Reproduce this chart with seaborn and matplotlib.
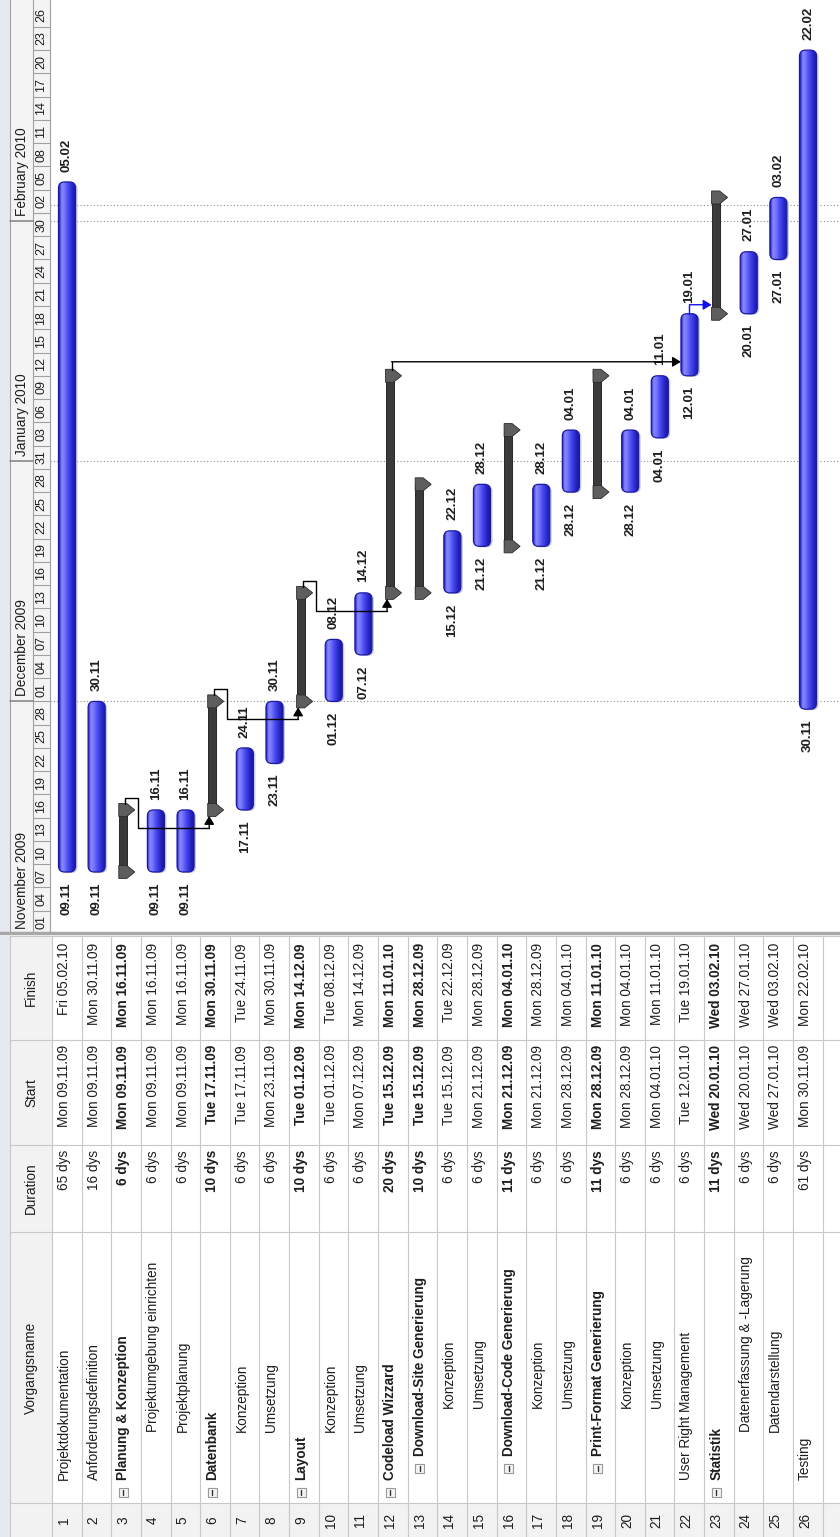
#!/usr/bin/env python3

import numpy as np
import pandas as pd
import seaborn as sns
import matplotlib.pyplot as plt
from matplotlib.patches import Rectangle, Polygon, FancyBboxPatch
from matplotlib.colors import LinearSegmentedColormap

# ---- data ----
task_names = [
    'Projektdokumentation', 'Anforderungsdefinition', 'Planung & Konzeption',
    'Projektumgebung einrichten', 'Projektplanung', 'Datenbank', 'Konzeption',
    'Umsetzung', 'Layout', 'Konzeption', 'Umsetzung', 'Codeload Wizzard',
    'Download-Site Generierung', 'Konzeption', 'Umsetzung',
    'Download-Code Generierung', 'Konzeption', 'Umsetzung',
    'Print-Format Generierung', 'Konzeption', 'Umsetzung',
    'User Right Management', 'Statistik', 'Datenerfassung & -Lagerung',
    'Datendarstellung', 'Testing',
]
outline_level = [0, 0, 0, 1, 1, 0, 1, 1, 0, 1, 1, 0, 1, 2, 2, 1, 2, 2, 1, 2, 2,
                 0, 0, 1, 1, 0]
summary_rows = [3, 6, 9, 12, 13, 16, 19, 23]
durations = ['65 dys', '16 dys', '6 dys', '6 dys', '6 dys', '10 dys', '6 dys',
             '6 dys', '10 dys', '6 dys', '6 dys', '20 dys', '10 dys', '6 dys',
             '6 dys', '11 dys', '6 dys', '6 dys', '11 dys', '6 dys', '6 dys',
             '6 dys', '11 dys', '6 dys', '6 dys', '61 dys']
starts = ['Mon 09.11.09', 'Mon 09.11.09', 'Mon 09.11.09', 'Mon 09.11.09',
          'Mon 09.11.09', 'Tue 17.11.09', 'Tue 17.11.09', 'Mon 23.11.09',
          'Tue 01.12.09', 'Tue 01.12.09', 'Mon 07.12.09', 'Tue 15.12.09',
          'Tue 15.12.09', 'Tue 15.12.09', 'Mon 21.12.09', 'Mon 21.12.09',
          'Mon 21.12.09', 'Mon 28.12.09', 'Mon 28.12.09', 'Mon 28.12.09',
          'Mon 04.01.10', 'Tue 12.01.10', 'Wed 20.01.10', 'Wed 20.01.10',
          'Wed 27.01.10', 'Mon 30.11.09']
finishes = ['Fri 05.02.10', 'Mon 30.11.09', 'Mon 16.11.09', 'Mon 16.11.09',
            'Mon 16.11.09', 'Mon 30.11.09', 'Tue 24.11.09', 'Mon 30.11.09',
            'Mon 14.12.09', 'Tue 08.12.09', 'Mon 14.12.09', 'Mon 11.01.10',
            'Mon 28.12.09', 'Tue 22.12.09', 'Mon 28.12.09', 'Mon 04.01.10',
            'Mon 28.12.09', 'Mon 04.01.10', 'Mon 11.01.10', 'Mon 04.01.10',
            'Mon 11.01.10', 'Tue 19.01.10', 'Wed 03.02.10', 'Wed 27.01.10',
            'Wed 03.02.10', 'Mon 22.02.10']
# predecessor, successor, routing of the link line
links = [(3, 6, 'zigzag'), (6, 9, 'zigzag'), (9, 12, 'zigzag'),
         (12, 22, 'direct'), (22, 23, 'direct')]
link_colors = ['black', 'black', 'black', 'black', '#1010e8']
months = ['November 2009', 'December 2009', 'January 2010', 'February 2010']
month_starts = ['01.11.09', '01.12.09', '01.01.10', '01.02.10']
status_date = '03.02.10'
column_titles = ['Vorgangsname', 'Duration', 'Start', 'Finish']

# ---- layout (pixels of the 840x1537 picture) ----
W, H = 840, 1537
PX_DAY = 7.753      # pixels per day on the time axis
DAY0_Y = 934        # pixel row of 01.11.2009 00:00
ROW0_X = 67         # pixel column of task row 1
ROW_W = 29.64       # pixels per task row
GANTT_BOTTOM = 933
TXT = '#1e1e1e'
GRID = '#c8c8c8'

origin = pd.Timestamp('2009-11-01')


def to_day(text):
    return (pd.to_datetime(text[-8:], format='%d.%m.%y') - origin).days


def dx(p):
    return p / ROW_W


def dy(p):
    return p / PX_DAY


tasks = pd.DataFrame({
    'row': np.arange(len(task_names)),
    'name': task_names,
    'level': outline_level,
    'duration': durations,
    'start_txt': starts,
    'finish_txt': finishes,
})
tasks['summary'] = (tasks['row'] + 1).isin(summary_rows)
tasks['start'] = [to_day(s) for s in starts]
tasks['end'] = [to_day(s) + 1 for s in finishes]
tasks['length'] = tasks['end'] - tasks['start']

sns.set_style('white')
plt.rcParams['font.family'] = ['Liberation Sans', 'DejaVu Sans']

fig = plt.figure(figsize=(W / 100, H / 100), dpi=100)


def px_axes(x0, y0, x1, y1):
    return fig.add_axes([x0 / W, 1 - y1 / H, (x1 - x0) / W, (y1 - y0) / H])


y_lo = (DAY0_Y - GANTT_BOTTOM) / PX_DAY
y_hi = DAY0_Y / PX_DAY

# ---- gantt area ----
gantt = px_axes(50, 0, W, GANTT_BOTTOM)
leaf = tasks[~tasks['summary']]
sns.barplot(data=leaf, x='row', y='length', order=list(tasks['row']),
            bottom=leaf['start'].to_numpy(), width=dx(17), color='#4d4df2',
            errorbar=None, ax=gantt, zorder=3)

bar_cmap = LinearSegmentedColormap.from_list(
    'bar', ['#2020c0', '#8a8aff', '#7474fb', '#5050f2', '#3838e0', '#2424bc',
            '#1a1aa0'])
for rect in list(gantt.patches):
    x, y = rect.get_x(), rect.get_y()
    w, h = rect.get_width(), rect.get_height()
    rect.remove()
    # faint drop shadow on the right side
    gantt.add_patch(FancyBboxPatch(
        (x + dx(2), y - dy(1)), w, h,
        boxstyle=f'round,pad=0,rounding_size={dx(6)}',
        mutation_aspect=ROW_W / PX_DAY, fc='#c8c8d8', ec='none', zorder=2))
    pill = FancyBboxPatch((x, y), w, h,
                          boxstyle=f'round,pad=0,rounding_size={dx(6)}',
                          mutation_aspect=ROW_W / PX_DAY, fc='none',
                          ec='#1a1aa8', lw=0.9, zorder=4)
    gantt.add_patch(pill)
    im = gantt.imshow(np.linspace(0, 1, 64)[None, :],
                      extent=(x, x + w, y, y + h), origin='lower',
                      aspect='auto', cmap=bar_cmap, interpolation='bilinear',
                      zorder=3)
    im.set_clip_path(pill)

# summary bars with their end caps
summ = tasks[tasks['summary']]
gantt.bar(summ['row'] - dx(3.5), summ['length'], bottom=summ['start'],
          width=dx(8), color='#3a3a3a', edgecolor='#141414', lw=0.6,
          zorder=3)
for _, t in summ.iterrows():
    xl, xm, xt = t['row'] - dx(7.5), t['row'] + dx(0.5), t['row'] + dx(8.5)
    for yc in (t['start'], t['end']):
        hh = dy(6.5)
        gantt.add_patch(Polygon(
            [(xl, yc - hh), (xm, yc - hh), (xt, yc), (xm, yc + hh),
             (xl, yc + hh)], closed=True, fc='#5e5e5e', ec='#2a2a2a',
            lw=0.6, zorder=4))

# start / finish labels
for _, t in leaf.iterrows():
    gantt.annotate(t['start_txt'][4:9], (t['row'], t['start']),
                   xytext=(0, -7.5), textcoords='offset points', rotation=90,
                   ha='center', va='top', fontsize=9.5, fontweight='bold',
                   color=TXT, zorder=5)
    gantt.annotate(t['finish_txt'][4:9], (t['row'], t['end']),
                   xytext=(0, 7.5), textcoords='offset points', rotation=90,
                   ha='center', va='bottom', fontsize=9.5, fontweight='bold',
                   color=TXT, zorder=5)

# month boundaries and status date
for ms in month_starts[1:] + [status_date]:
    gantt.axhline(to_day(ms), color='#8c8c8c', ls=(0, (1, 2)), lw=0.8,
                  zorder=1)

# dependency links
for (p, s, route), col in zip(links, link_colors):
    pt = tasks.iloc[p - 1]
    st = tasks.iloc[s - 1]
    x0 = pt['row'] - dx(1.5) if pt['summary'] else pt['row']
    y0 = pt['end'] + (dy(6) if pt['summary'] else 0)
    if route == 'zigzag':
        xe = st['row'] - dx(6)
        ylow = st['start'] - dy(18)
        path = [(x0, y0), (x0, pt['end'] + dy(12)),
                (x0 + dx(13), pt['end'] + dy(12)), (x0 + dx(13), ylow),
                (xe, ylow)]
        tip = (xe, st['start'] - dy(6))
    else:
        yh = pt['end'] + (dy(14) if pt['summary'] else dy(9))
        xe = st['row'] - (dx(7.5) if st['summary'] else dx(8.5))
        path = [(x0, y0), (x0, yh)]
        tip = (xe, yh)
    px, py = zip(*path)
    gantt.plot(px, py, color=col, lw=1, zorder=6, solid_joinstyle='round')
    gantt.annotate('', xy=tip, xytext=path[-1],
                   arrowprops=dict(arrowstyle='-|>,head_length=0.5,'
                                   'head_width=0.3', color=col, lw=1,
                                   shrinkA=0, shrinkB=0, mutation_scale=10),
                   zorder=6)

gantt.set_xlim((50 - ROW0_X) / ROW_W, (W - ROW0_X) / ROW_W)
gantt.set_ylim(y_lo, y_hi)
gantt.set_axis_off()

# ---- timescale header ----
scale = px_axes(0, 0, 52, GANTT_BOTTOM)
scale.set_xlim(0, 52)
scale.set_ylim(y_lo, y_hi)
scale.add_patch(Rectangle((0, y_lo), 10, y_hi - y_lo, fc='#e6eaf0', ec='none'))
scale.add_patch(Rectangle((10, y_lo), 40, y_hi - y_lo, fc='#f4f4f4',
                          ec='none'))
for xv in (10, 33, 50):
    scale.plot([xv, xv], [y_lo, y_hi], color='#a0a0a0', lw=0.8)
day_ticks = pd.date_range('2009-11-01', '2010-02-26', freq='3D')
for d in day_ticks:
    yd = (d - origin).days
    scale.plot([33, 50], [yd, yd], color='#a0a0a0', lw=0.8)
    scale.text(41.5, yd + 1.5, d.strftime('%d'), rotation=90, ha='center',
               va='center', fontsize=9, color=TXT)
for m, ms in zip(months, month_starts):
    ym = to_day(ms)
    scale.plot([10, 33], [ym, ym], color='#8a8a8a', lw=1.2)
    scale.text(22, ym + dy(5), m, rotation=90, ha='center', va='bottom',
               fontsize=9.8, color=TXT)
scale.set_axis_off()

# ---- task table ----
table = px_axes(0, 929, W, H)
table.set_xlim(0, W)
table.set_ylim(H, 929)
col_y = [936, 1040, 1145, 1232, 1503, H]
row_edges = [52 + ROW_W * k for k in range(len(task_names) + 1)]

table.add_patch(Rectangle((0, 936), 10, H - 936, fc='#e6eaf0', ec='none'))
table.add_patch(Rectangle((10, 936), 42, H - 936, fc='#f2f2f2', ec='none'))
table.add_patch(Rectangle((52, 1503), W - 52, H - 1503, fc='#f2f2f2',
                          ec='none'))
table.plot([0, W], [932.5, 932.5], color='#a8a8a8', lw=2.5)
for yv in col_y[:-1]:
    table.plot([10, W], [yv, yv], color=GRID, lw=0.8)
for xv in [10] + row_edges:
    table.plot([xv, xv], [936, H], color=GRID, lw=0.8)

title_y = [(col_y[3] + col_y[4]) / 2, (col_y[2] + col_y[3]) / 2,
           (col_y[1] + col_y[2]) / 2, (col_y[0] + col_y[1]) / 2]
for title, ty in zip(column_titles, title_y):
    table.text(31, ty, title, rotation=90, ha='center', va='center',
               fontsize=9.8, color=TXT)

for _, t in tasks.iterrows():
    xc = ROW0_X + ROW_W * t['row'] - 3
    weight = 'bold' if t['summary'] else 'normal'
    name_y = 1480 - 24 * t['level'] - (24 if t['level'] and not t['summary']
                                       else 0)
    table.text(xc, 1520, str(t['row'] + 1), rotation=90, ha='center',
               va='center', fontsize=9.8, color=TXT)
    table.text(xc, name_y, t['name'], rotation=90, ha='center', va='bottom',
               fontsize=9.8, fontweight=weight, color=TXT)
    if t['summary']:
        by = name_y + 12
        table.add_patch(Rectangle((xc - 4.5, by - 4.5), 9, 9, fc='#f4f4f4',
                                  ec='#9a9a9a', lw=0.8))
        table.plot([xc, xc], [by - 2.5, by + 2.5], color='#333333', lw=1)
    table.text(xc, 1150, t['duration'], rotation=90, ha='center', va='top',
               fontsize=9.8, fontweight=weight, color=TXT)
    table.text(xc, 1045, t['start_txt'], rotation=90, ha='center', va='top',
               fontsize=9.8, fontweight=weight, color=TXT)
    table.text(xc, 943, t['finish_txt'], rotation=90, ha='center', va='top',
               fontsize=9.8, fontweight=weight, color=TXT)
table.set_axis_off()

fig.savefig('out.png', dpi=100)
